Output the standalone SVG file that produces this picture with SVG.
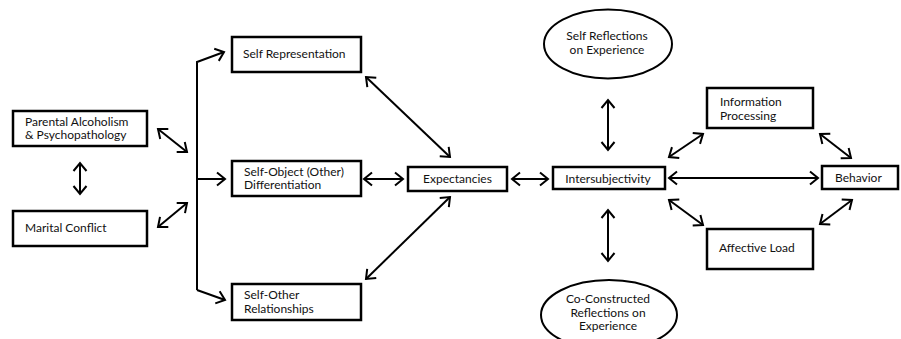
<svg xmlns="http://www.w3.org/2000/svg" width="901" height="339" viewBox="0 0 901 339">
<defs>
<style>
.box{fill:#fff;stroke:#000;stroke-width:2.5}
.ell{fill:#fff;stroke:#000;stroke-width:2}
.t{font-family:Lato,"Liberation Sans",sans-serif;font-size:12px;fill:#111}
.c{text-anchor:middle}
.ln{fill:none;stroke:#000;stroke-width:2}
.a1{marker-end:url(#ah)}
.a2{marker-start:url(#ah);marker-end:url(#ah)}
</style>
<marker id="ah" markerUnits="userSpaceOnUse" viewBox="-10 -8 12 16" markerWidth="12" markerHeight="16" refX="0" refY="0" orient="auto-start-reverse">
<path d="M-8,-6.5 L0,0 L-8,6.5" fill="none" stroke="#000" stroke-width="2"/>
</marker>
</defs>
<g id="connectors">
<path class="ln" d="M197,290 L197,62 L224,52" marker-end="url(#ah)"/>
<line class="ln a1" x1="197" y1="179" x2="225" y2="179"/>
<line class="ln a1" x1="197" y1="290" x2="225" y2="300"/>
<line class="ln a2" x1="158" y1="129" x2="187" y2="152"/>
<line class="ln a2" x1="158" y1="227" x2="187" y2="203"/>
<line class="ln a2" x1="80" y1="163" x2="80" y2="194"/>
<line class="ln a2" x1="366" y1="77" x2="450" y2="157"/>
<line class="ln a2" x1="366" y1="279" x2="450" y2="197"/>
<line class="ln a2" x1="364" y1="179" x2="403" y2="179"/>
<line class="ln a2" x1="512" y1="179" x2="548" y2="179"/>
<line class="ln a2" x1="608" y1="100" x2="608" y2="150"/>
<line class="ln a2" x1="608" y1="210" x2="608" y2="261"/>
<line class="ln a2" x1="669" y1="178" x2="818" y2="178"/>
<line class="ln a2" x1="669" y1="157" x2="703" y2="134"/>
<line class="ln a2" x1="820" y1="134" x2="851" y2="158"/>
<line class="ln a2" x1="669" y1="200" x2="703" y2="225"/>
<line class="ln a2" x1="852" y1="200" x2="820" y2="224"/>
</g>
<g id="parental">
<rect class="box" x="13" y="111" width="134" height="35"/>
<text class="t" x="25" y="125.5">Parental Alcoholism</text>
<text class="t" x="25" y="139">&amp; Psychopathology</text>
</g>
<g id="marital">
<rect class="box" x="13" y="211" width="134" height="35"/>
<text class="t" x="25" y="232">Marital Conflict</text>
</g>
<g id="selfrep">
<rect class="box" x="232" y="37" width="129" height="35"/>
<text class="t" x="243" y="58">Self Representation</text>
</g>
<g id="selfobj">
<rect class="box" x="232" y="161" width="129" height="35"/>
<text class="t" x="244" y="175.5">Self-Object (Other)</text>
<text class="t" x="244" y="189">Differentiation</text>
</g>
<g id="selfother">
<rect class="box" x="232" y="284" width="129" height="36"/>
<text class="t" x="244" y="299">Self-Other</text>
<text class="t" x="244" y="312.5">Relationships</text>
</g>
<g id="expect">
<rect class="box" x="408" y="167" width="99" height="24"/>
<text class="t c" x="457.5" y="183">Expectancies</text>
</g>
<g id="inter">
<rect class="box" x="553" y="167" width="112" height="22"/>
<text class="t c" x="608" y="183">Intersubjectivity</text>
</g>
<g id="selfrefl">
<ellipse class="ell" cx="608" cy="44" rx="64" ry="34.5"/>
<text class="t c" x="607" y="40">Self Reflections</text>
<text class="t c" x="607" y="54">on Experience</text>
</g>
<g id="coconst">
<ellipse class="ell" cx="609" cy="315" rx="68" ry="35"/>
<text class="t c" x="608" y="303">Co-Constructed</text>
<text class="t c" x="608" y="316.5">Reflections on</text>
<text class="t c" x="608" y="330">Experience</text>
</g>
<g id="info">
<rect class="box" x="707" y="88" width="106" height="40"/>
<text class="t" x="720" y="106">Information</text>
<text class="t" x="720" y="119.5">Processing</text>
</g>
<g id="affect">
<rect class="box" x="707" y="229" width="106" height="40"/>
<text class="t" x="719" y="252">Affective Load</text>
</g>
<g id="behavior">
<rect class="box" x="822" y="166" width="76" height="23"/>
<text class="t" x="835" y="182">Behavior</text>
</g>
</svg>
